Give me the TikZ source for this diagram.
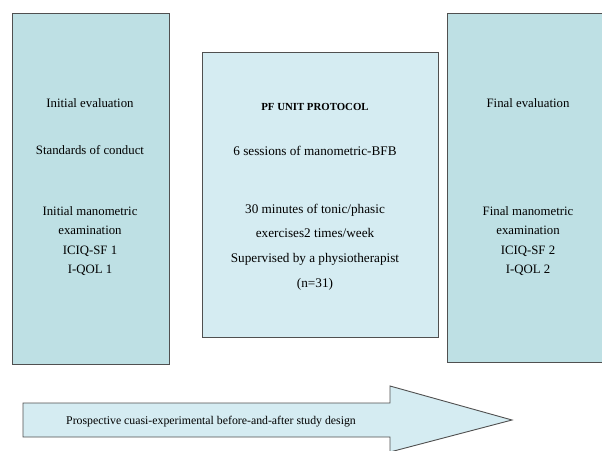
\documentclass[tikz,border=0pt]{standalone}
\usepackage{fontspec}
\setmainfont{Liberation Serif}
\definecolor{boxside}{RGB}{190,224,228}
\definecolor{boxmid}{RGB}{213,236,242}
\definecolor{edge}{RGB}{80,80,80}
\begin{document}
\begin{tikzpicture}[x=1pt,y=-1pt,
  panel/.style={draw=edge,line width=0.9pt},
  txt/.style={font=\fontsize{12.8}{14}\selectfont,text=black,inner sep=0pt,anchor=base},
  txtm/.style={txt,font=\fontsize{13.2}{15}\selectfont},
]
\useasboundingbox (0,0) rectangle (602,450);
\fill[white] (0,0) rectangle (602,450);
% boxes
\node[panel,fill=boxside,rectangle,inner sep=0pt,minimum width=157pt,minimum height=351pt] (left) at (90.5,188.5) {};
\node[panel,fill=boxmid,rectangle,inner sep=0pt,minimum width=236pt,minimum height=285pt] (mid) at (320,194.5) {};
\node[panel,fill=boxside,rectangle,inner sep=0pt,minimum width=159pt,minimum height=349pt] (right) at (526.5,187.5) {};
% left texts
\node[txt] (l1) at (90,107) {Initial evaluation};
\node[txt] (l2) at (90,154) {Standards of conduct};
\node[txt] (l3) at (90,215) {Initial manometric};
\node[txt] (l4) at (90,234) {examination};
\node[txt] (l5) at (90,254) {ICIQ-SF 1};
\node[txt] (l6) at (90,273) {I-QOL 1};
% middle texts
\node[txt,font=\fontsize{10.8}{12}\selectfont\bfseries] (m1) at (315,110) {PF UNIT PROTOCOL};
\node[txtm] (m2) at (315,155) {6 sessions of manometric-BFB};
\node[txtm] (m3) at (315,213) {30 minutes of tonic/phasic};
\node[txtm] (m4) at (315,237) {exercises2 times/week};
\node[txtm] (m5) at (315,262) {Supervised by a physiotherapist};
\node[txtm] (m6) at (315,287) {(n=31)};
% right texts
\node[txt] (r1) at (528,107) {Final evaluation};
\node[txt] (r2) at (528,215) {Final manometric};
\node[txt] (r3) at (528,234) {examination};
\node[txt] (r4) at (528,254) {ICIQ-SF 2};
\node[txt] (r5) at (528,273) {I-QOL 2};
% arrow
\draw[panel,fill=boxmid] (23,403) -- (390,403) -- (390,386) -- (512,420) -- (390,452) -- (390,437) -- (23,437) -- cycle;
\node[txt,font=\fontsize{11.8}{13}\selectfont,anchor=base west] (a1) at (66,424) {Prospective cuasi-experimental before-and-after study design};
\end{tikzpicture}
\end{document}
